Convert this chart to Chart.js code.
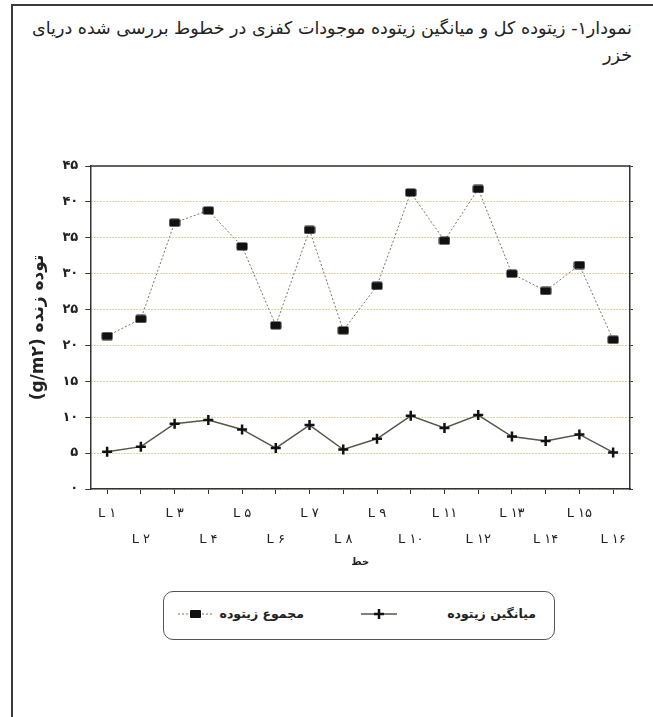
<!DOCTYPE html>
<html lang="fa">
<head>
<meta charset="utf-8">
<script src="https://cdn.jsdelivr.net/npm/chart.js@4.4.0/dist/chart.umd.min.js"></script>
<style>
  body { margin: 0; width: 653px; height: 717px; background: #fff; position: relative; overflow: hidden; font-family: 'DejaVu Sans', sans-serif; }
  .frame-top { position: absolute; left: 11px; top: 4px; width: 642px; height: 2px; background: #3a3a3a; }
  .frame-left { position: absolute; left: 11px; top: 4px; width: 2px; height: 713px; background: #3a3a3a; }
  .title { position: absolute; right: 21px; top: 15px; width: 620px; direction: rtl; text-align: right; font-size: 17.5px; line-height: 27px; color: #222; }
  #wrap { position: absolute; left: 0; top: 0; width: 653px; height: 580px; }
  .legend { position: absolute; left: 163px; top: 591px; width: 390px; height: 47px; border: 1.5px solid #555; border-radius: 10px; }
  .legend span { position: absolute; top: 14px; font-size: 12.5px; font-weight: bold; color: #222; direction: rtl; white-space: nowrap; }
  .legend svg { position: absolute; top: 16px; }
</style>
</head>
<body>
<div class="frame-top"></div>
<div class="frame-left"></div>
<div class="title">نمودار۱- زیتوده کل و میانگین زیتوده موجودات کفزی در خطوط بررسی شده دریای<br>خزر</div>
<div id="wrap"><canvas id="chart" dir="rtl"></canvas></div>
<div class="legend">
  <svg width="34" height="12" style="left:14px"><line x1="0" y1="6" x2="34" y2="6" stroke="#77775a" stroke-width="1" stroke-dasharray="2,2"/><rect x="12" y="2" width="11" height="8" rx="1" fill="#111"/></svg>
  <span style="right:250px">مجموع زیتوده</span>
  <svg width="36" height="12" style="left:197px"><line x1="0" y1="6" x2="36" y2="6" stroke="#555548" stroke-width="1.5"/><line x1="18" y1="1" x2="18" y2="11" stroke="#111" stroke-width="2.5"/><line x1="13" y1="6" x2="23" y2="6" stroke="#111" stroke-width="2.5"/></svg>
  <span style="right:18px">میانگین زیتوده</span>
</div>
<script>
const lines = ['L ۱', 'L ۲', 'L ۳', 'L ۴', 'L ۵', 'L ۶', 'L ۷', 'L ۸', 'L ۹', 'L ۱۰', 'L ۱۱', 'L ۱۲', 'L ۱۳', 'L ۱۴', 'L ۱۵', 'L ۱۶'];
const totalBiomass = [21.3, 23.7, 37.1, 38.8, 33.8, 22.8, 36.1, 22.1, 28.3, 41.3, 34.6, 41.8, 30.0, 27.6, 31.2, 20.8];
const meanBiomass = [5.2, 5.9, 9.1, 9.6, 8.3, 5.7, 8.9, 5.5, 7.0, 10.2, 8.5, 10.3, 7.3, 6.7, 7.6, 5.1];
const yMax = 45;
const yStep = 5;

const faDigits = '۰۱۲۳۴۵۶۷۸۹';
function toFa(n) {
    return String(n).replace(/\d/g, d => faDigits[d]);
}

// black bar-shaped marker for the total series
const rectMark = document.createElement('canvas');
rectMark.width = 12;
rectMark.height = 9;
const rc = rectMark.getContext('2d');
rc.fillStyle = '#111';
rc.beginPath();
rc.roundRect(0.5, 0.5, 11, 8, 1.5);
rc.fill();

const plotBox = {
    id: 'plotBox',
    afterDraw(chart) {
        const { ctx, chartArea: a } = chart;
        ctx.save();
        ctx.strokeStyle = '#333';
        ctx.lineWidth = 1.5;
        ctx.beginPath();
        ctx.moveTo(a.left, a.top);
        ctx.lineTo(a.right, a.top);
        ctx.stroke();
        ctx.restore();
    }
};

const font = 'DejaVu Sans';

new Chart(document.getElementById('chart'), {
    type: 'line',
    data: {
        labels: lines,
        datasets: [{
            label: 'مجموع زیتوده',
            data: totalBiomass,
            borderColor: '#77775a',
            borderWidth: 1,
            borderDash: [2, 2],
            pointStyle: rectMark,
            backgroundColor: '#111',
            tension: 0,
            yAxisID: 'y'
        }, {
            label: 'میانگین زیتوده',
            data: meanBiomass,
            borderColor: '#555548',
            borderWidth: 1.5,
            pointStyle: 'cross',
            pointRadius: 5,
            pointBorderWidth: 2.5,
            pointBorderColor: '#111',
            tension: 0,
            yAxisID: 'y'
        }]
    },
    options: {
        responsive: true,
        maintainAspectRatio: false,
        animation: false,
        layout: { padding: { left: 28, right: 20, top: 166, bottom: 12 } },
        plugins: {
            legend: { display: false },
            tooltip: { enabled: false }
        },
        scales: {
            x: {
                offset: true,
                grid: { drawOnChartArea: false, tickLength: 5, tickColor: '#333', tickWidth: 1 },
                border: { color: '#333', width: 1.5 },
                ticks: {
                    autoSkip: false,
                    maxRotation: 0,
                    padding: 7,
                    color: '#222',
                    font: { family: font, size: 13, lineHeight: 2 },
                    callback: (v, i) => i % 2 === 0 ? [lines[i], ''] : ['', lines[i]]
                },
                title: {
                    display: true,
                    text: 'خط',
                    color: '#222',
                    font: { family: font, size: 10, weight: 'bold' },
                    padding: { top: -4, bottom: 0 }
                }
            },
            y: {
                min: 0,
                max: yMax,
                grid: { color: '#b8aa4c', lineWidth: 1, tickLength: 5, tickColor: '#333' },
                border: { color: '#333', width: 1.5, dash: [1, 2] },
                ticks: {
                    stepSize: yStep,
                    padding: 7,
                    color: '#222',
                    font: { family: font, size: 13, weight: 'bold' },
                    callback: v => toFa(v)
                },
                title: {
                    display: true,
                    text: 'توده زنده (g/m۲)',
                    color: '#222',
                    font: { family: font, size: 17, weight: 'bold' },
                    padding: { top: 0, bottom: 7 }
                }
            },
            y2: {
                position: 'right',
                min: 0,
                max: yMax,
                grid: { drawOnChartArea: false, tickLength: 3, tickColor: '#333' },
                border: { color: '#333', width: 1.5 },
                ticks: { stepSize: yStep, display: false }
            }
        }
    },
    plugins: [plotBox]
});
</script>
</body>
</html>
